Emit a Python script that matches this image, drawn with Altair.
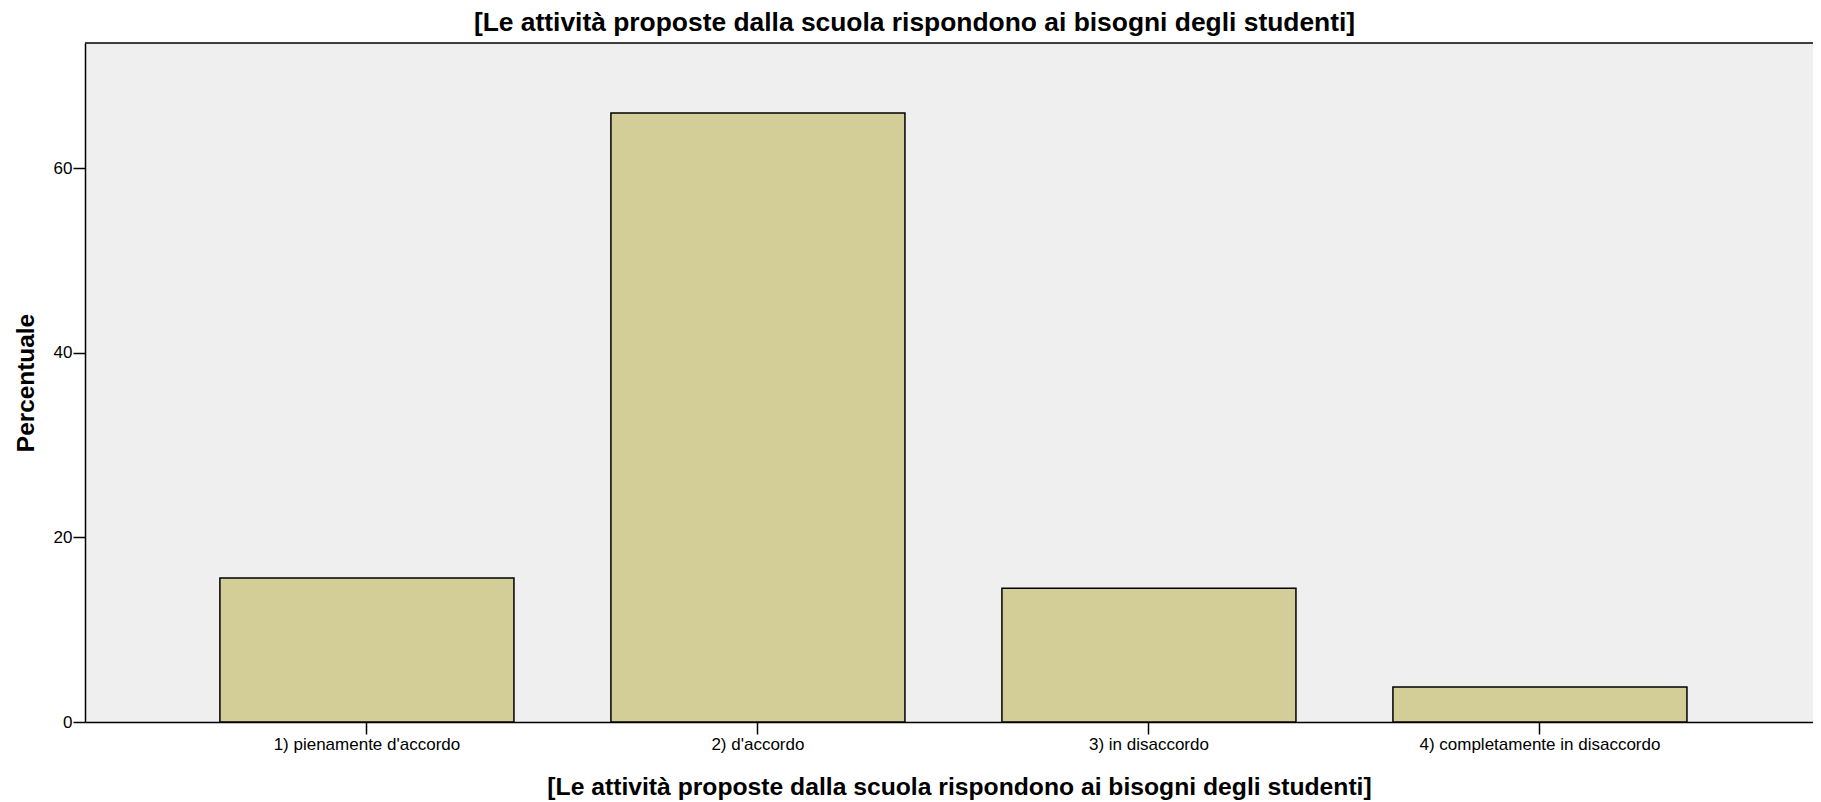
import altair as alt
import pandas as pd

categories = ["1) pienamente d'accordo", "2) d'accordo", "3) in disaccordo", "4) completamente in disaccordo"]
percent = [15.6, 66.0, 14.5, 3.8]
y_ticks = [0, 20, 40, 60]
title_text = "[Le attività proposte dalla scuola rispondono ai bisogni degli studenti]"

df = pd.DataFrame({"cat": categories, "pct": percent})
frame_df = pd.DataFrame({"edge": ["top"]})

FONT = "Liberation Sans"
W, H = 1728, 679

bars = alt.Chart(df).mark_bar(
    color="#d3ce98", stroke="black", strokeWidth=1.5
).encode(
    x=alt.X("cat:N", sort=categories,
            scale=alt.Scale(paddingInner=0.248, paddingOuter=0.3337, align=0.517),
            axis=alt.Axis(title=title_text, labelAngle=0, labelFont=FONT, labelFontSize=17,
                          labelLimit=600, labelColor="black", labelPadding=2, tickSize=12,
                          tickColor="black", tickWidth=1.5, domainColor="black",
                          domainWidth=1.5, titleFont=FONT, titleFontSize=24.7,
                          titleFontWeight="bold", titleColor="black", titleX=874,
                          titleY=72, titleBaseline="alphabetic", titleAlign="center")),
    y=alt.Y("pct:Q", scale=alt.Scale(domain=[0, 73.6], nice=False, zero=True),
            axis=alt.Axis(title="Percentuale", values=y_ticks, grid=False, labelFont=FONT,
                          labelFontSize=17, labelColor="black", labelPadding=1, tickSize=12,
                          tickColor="black", tickWidth=1.5, domainColor="black",
                          domainWidth=1.5, titleFont=FONT, titleFontSize=24.4,
                          titleFontWeight="bold", titleColor="black", titleAngle=270,
                          titleX=-59, titleY=339.5, titleBaseline="middle",
                          titleAlign="center"))
)

top_edge = alt.Chart(frame_df).mark_rule(color="black", strokeWidth=1.5).encode(
    x=alt.value(0), x2=alt.value(W), y=alt.value(0)
)

chart = alt.layer(bars, top_edge).properties(
    width=W, height=H,
    title=alt.TitleParams(title_text, font=FONT, fontSize=26.4, fontWeight="bold",
                          color="black", anchor="middle", frame="group", dx=-34.5,
                          baseline="middle", offset=22, dy=29),
    autosize=alt.AutoSizeParams(type="none"),
    padding={"left": 77, "top": 35, "right": 0, "bottom": 78},
).configure(
    background="white"
).configure_view(
    fill="#efefef", stroke=None
)

chart.save("out.html", embed_options={"renderer": "svg", "actions": False})
